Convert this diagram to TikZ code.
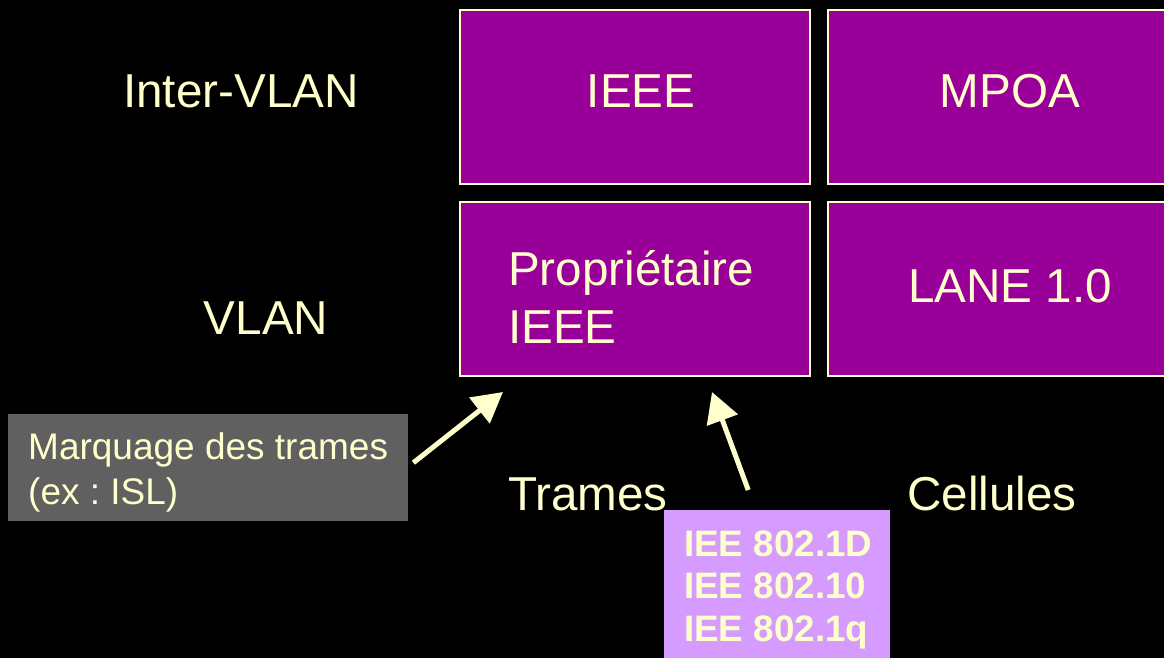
\documentclass[tikz,border=0pt]{standalone}
\usepackage{fontspec}
\setmainfont{Liberation Sans}
\usetikzlibrary{arrows.meta}
\frenchspacing
\definecolor{cream}{HTML}{FFFFCC}
\definecolor{plum}{HTML}{990099}
\definecolor{slate}{HTML}{606060}
\definecolor{lilac}{HTML}{D59BFF}
\tikzset{
  cell/.style={draw=cream, line width=2.5pt, fill=plum, minimum width=350pt, minimum height=174pt, inner sep=0pt},
  big/.style={text=cream, font=\fontsize{47.6}{58}\selectfont, inner sep=0pt},
  note/.style={text=cream, font=\fontsize{37}{45}\selectfont, inner sep=0pt},
  std/.style={text=cream, font=\bfseries\fontsize{36.8}{42.5}\selectfont, inner sep=0pt},
  pointer/.style={draw=cream, line width=5pt, -{Triangle[length=30pt,width=32pt]}}
}
\begin{document}
\begin{tikzpicture}[x=1pt,y=-1pt]
  \fill[black] (0,0) rectangle (1164,658);
  \useasboundingbox (0,0) rectangle (1164,658);
  \clip (0,0) rectangle (1164,658);

  % grid of protocol cells
  \node[cell] (ieee) at (635,97) {};
  \node[cell, minimum width=360pt] (mpoa) at (1008,97) {};
  \node[cell] (prop) at (635,289) {};
  \node[cell, minimum width=360pt] (lane) at (1008,289) {};

  \node[big, anchor=base] (ieeet) at (641,108) {IEEE};
  \node[big, anchor=base] (mpoat) at (1010,108) {MPOA};
  \node[big, anchor=base west, align=left] (propt) at (508,343) {Propriétaire\\IEEE};
  \node[big, anchor=base] (lanet) at (1010,302) {LANE 1.0};

  % row and column labels
  \node[big, anchor=base] (inter) at (241,108) {Inter-VLAN};
  \node[big, anchor=base] (vlan) at (266,334) {VLAN};
  \node[big, anchor=base west] (trames) at (508,510) {Trames};
  \node[big, anchor=base west] (cellules) at (907,510) {Cellules};

  % callouts
  \node[fill=slate, minimum width=400pt, minimum height=107pt, inner sep=0pt, anchor=north west] (tag) at (8,414) {};
  \node[note, anchor=base west, align=left] (tagt) at (28,504) {Marquage des trames\\(ex : ISL)};

  \node[fill=lilac, minimum width=226pt, minimum height=160pt, inner sep=0pt, anchor=north west] (std) at (664,510) {};
  \node[std, anchor=base west, align=left] (stdt) at (684,641) {IEE 802.1D\\IEE 802.10\\IEE 802.1q};

  % pointers into the VLAN cell
  \coordinate (tagtip) at ([xshift=5pt,yshift=5pt]tag.east);
  \coordinate (stdtip) at ([xshift=-29pt,yshift=20pt]std.north);
  \draw[pointer] (tagtip) -- (503,392);
  \draw[pointer] (stdtip) -- (712,392);
\end{tikzpicture}
\end{document}
